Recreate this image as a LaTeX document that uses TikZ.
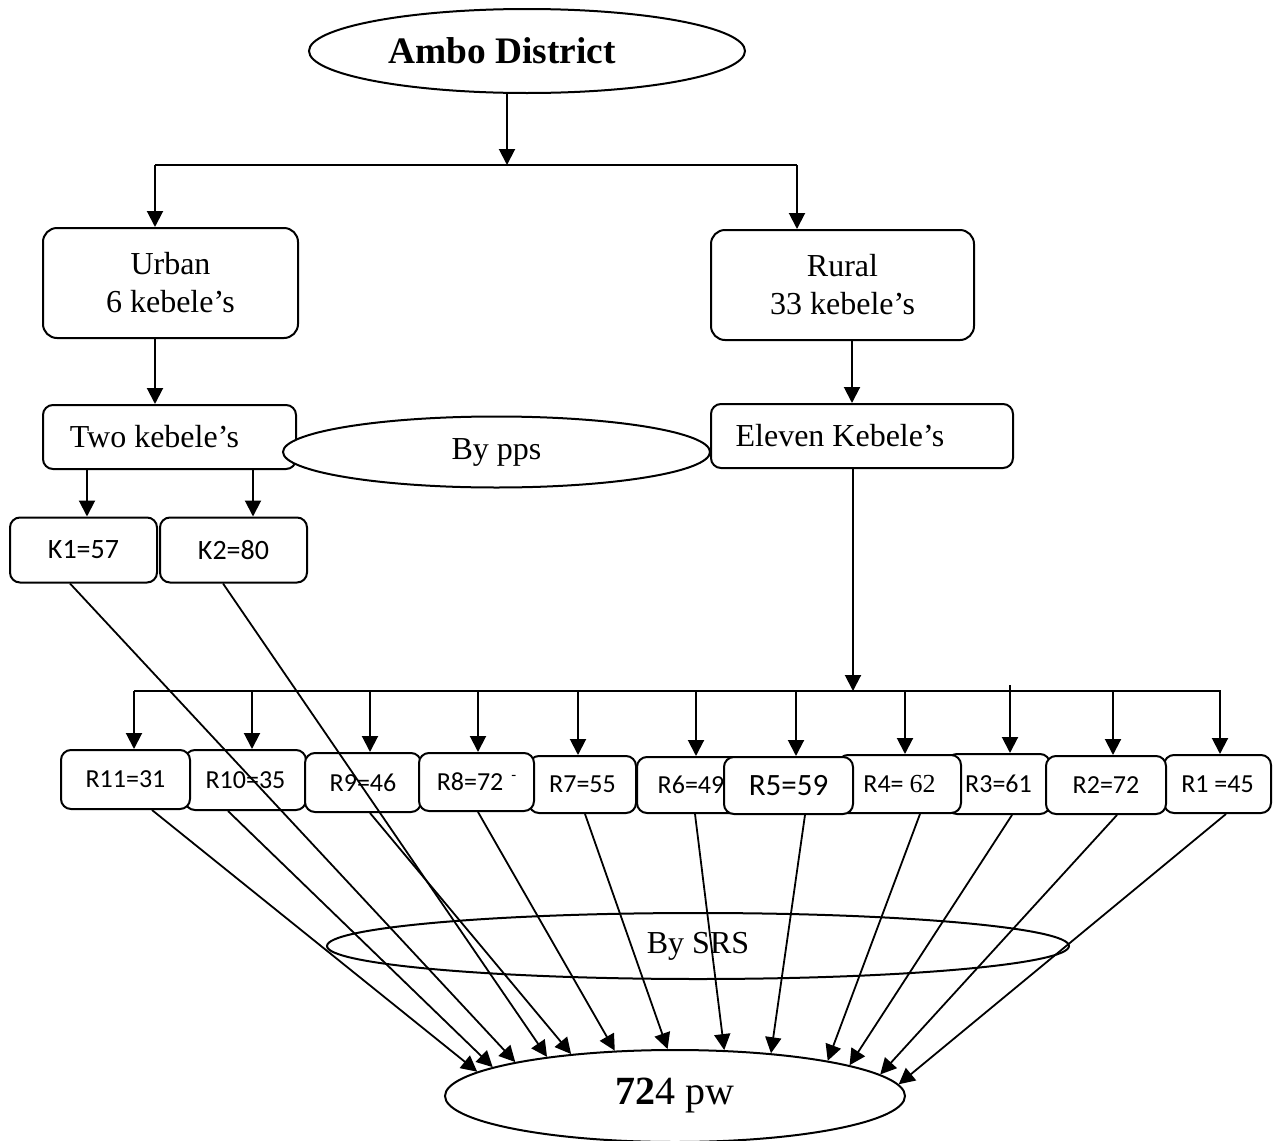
\documentclass[tikz,border=0pt]{standalone}
\usepackage{fontspec}
\setmainfont{Liberation Serif}
\newfontfamily\calibri{Carlito}
\usetikzlibrary{shapes.geometric, arrows.meta}

\tikzset{
	box/.style={draw, line width=1pt, rounded corners=7pt, fill=white, align=center, inner sep=0pt, font=\fontsize{16}{19}\selectfont},
	rbox/.style={box, rounded corners=5pt, font=\calibri\fontsize{13}{15}\selectfont},
	oval/.style={draw, ellipse, line width=1pt, inner sep=0pt, font=\fontsize{16}{19}\selectfont},
	arr/.style={-{Triangle[length=8pt, width=8pt]}, line width=1pt},
}

\begin{document}
\begin{tikzpicture}[x=0.5pt, y=-0.5pt]
		\useasboundingbox (0,0) rectangle (1281,1141);
		% district, urban and rural parts
		\node[oval, minimum width=218pt, minimum height=42pt, font=\fontsize{18.7}{22}\selectfont\bfseries] (ambo) at (527,51) {Ambo District\rule{25pt}{0pt}};
		\node[box, minimum width=127.5pt, minimum height=55pt] (urban) at (170.5,283) {Urban\\6 kebele’s};
		\node[box, minimum width=131.5pt, minimum height=55pt] (rural) at (842.5,285) {Rural\\33 kebele’s};
		% chosen kebeles
		\node[box, rounded corners=5pt, minimum width=126.5pt, minimum height=32pt] (two) at (169.5,437) {Two kebele’s\rule{15pt}{0pt}};
		\node[box, rounded corners=5pt, minimum width=151pt, minimum height=32pt] (eleven) at (862,436) {Eleven Kebele’s\rule{22pt}{0pt}};
		\node[oval, fill=white, minimum width=213.5pt, minimum height=35.5pt] (pps) at (496.5,452) {By pps};
		\node[box, rounded corners=5pt, minimum width=73.5pt, minimum height=32.5pt, font=\calibri\fontsize{14}{16}\selectfont] (k1) at (83.5,550) {K1=57};
		\node[box, rounded corners=5pt, minimum width=73.5pt, minimum height=32.5pt, font=\calibri\fontsize{14}{16}\selectfont] (k2) at (233.5,550) {K2=80};
		% top split
		\coordinate (split) at (507,165);
		\draw[arr] (ambo.south -| split) -- (split);
		\draw[line width=1pt] (155,165) -- (797,165);
		\draw[arr] (155,165) -- (urban.north -| 155,0);
		\draw[arr] (797,165) -- (rural.north -| 797,0);
		\draw[arr] (urban.south -| 155,0) -- (two.north -| 155,0);
		\draw[arr] (rural.south -| 852,0) -- (eleven.north -| 852,0);
		\draw[arr] (two.south -| 87,0) -- (k1.north -| 87,0);
		\draw[arr] (two.south -| 253,0) -- (k2.north -| 253,0);
		% rural kebeles
		\foreach \n/\t/\x/\y/\w/\h in {r10/R10=35/245.5/780/121/60, r11/R11=31/125.5/779.5/129/59,
			r9/R9=46/363/782.5/116/59, r7/R7=55/582.5/784.5/107/57,
			r8/{R8=72\hspace{4pt}\raisebox{5pt}{\fontsize{8}{8}\selectfont -}}/476.5/782/115/58,
			r6/R6=49/691/785/108/56, r3/R3=61/998.5/784/103/60, r4/{R4= {\rmfamily 62}}/899.5/784/123/58,
			r1/R1 =45/1217.5/784/107/58, r2/R2=72/1106/785/120/58,
			r5/{\fontsize{15.5}{18}\selectfont R5=59}/788.5/785.5/129/57}
		{
			\node[rbox, minimum width=\w*0.5pt, minimum height=\h*0.5pt] (\n) at (\x,\y) {\t};
		}
		\draw[arr] (eleven.south -| 853,0) -- (853,691);
		\draw[line width=1pt] (134,691) -- (1221,691);
		\foreach \n/\x in {r11/134, r10/252, r9/370, r8/478, r7/578, r6/696, r5/796, r4/905, r2/1113, r1/1220}
		{
			\draw[arr] (\x,691) -- (\n.north -| \x,0);
		}
		\draw[arr] (1010,685) -- (r3.north -| 1010,0);
		% sample
		\node[oval, minimum width=371pt, minimum height=33pt] (srs) at (698,946) {By SRS};
		\node[oval, minimum width=230pt, minimum height=46pt, font=\fontsize{20}{24}\selectfont] (pw) at (675,1096) {{\bfseries 72}4 pw};
		\foreach \n/\sx/\a in {r11/152/173, r10/228/171, k1/70/168, k2/223/163, r9/370/158, r8/478/143,
			r7/585/99, r6/695/43, r5/805/24, r4/920/13, r3/1012/10, r2/1117/6, r1/1226/3}
		{
			\draw[arr, line width=0.9pt] (\n.south -| \sx,0) -- (pw.\a);
		}
	\end{tikzpicture}
\end{document}
